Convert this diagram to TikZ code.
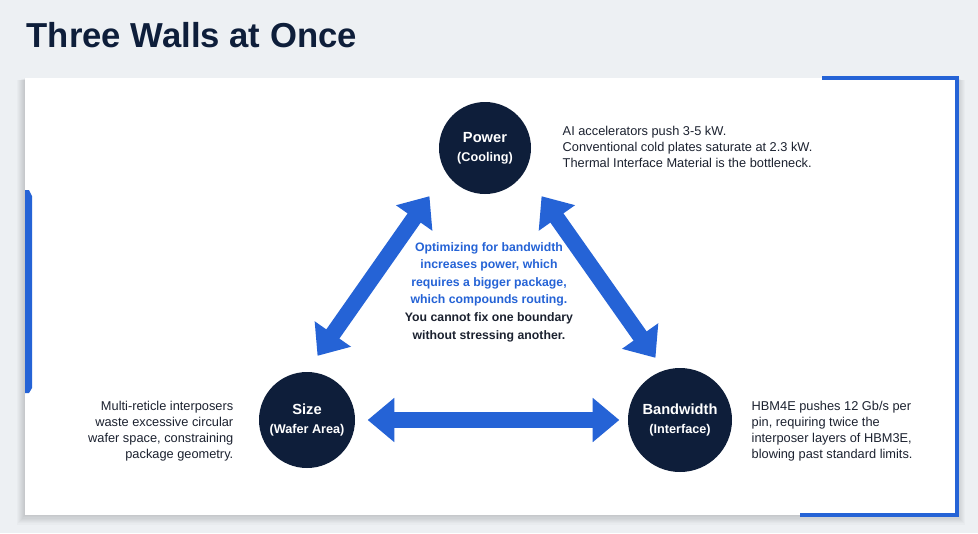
\documentclass[tikz,border=0pt]{standalone}
\usepackage{fontspec}
\setmainfont{Liberation Sans}
\usetikzlibrary{arrows.meta}
\definecolor{bg}{HTML}{EDF0F3}
\definecolor{navy}{HTML}{0E1E3A}
\definecolor{accent}{HTML}{2563D6}
\definecolor{ink}{HTML}{1C2230}
\begin{document}
\begin{tikzpicture}[x=0.75pt,y=-0.75pt,
  wall/.style={circle,fill=navy,text=white,font=\bfseries\fontsize{11}{13}\selectfont,align=center,inner sep=0pt},
  note/.style={font=\fontsize{9.6}{12}\selectfont,text=ink},
  dbl/.style={draw=accent,line width=12pt,{Triangle[length=20pt,width=32pt]}-{Triangle[length=20pt,width=32pt]},shorten <=2pt,shorten >=2pt}]
\useasboundingbox (0,0) rectangle (978,533);
\fill[bg] (0,0) rectangle (978,533);
\node[anchor=west,font=\bfseries\fontsize{26}{30}\selectfont,text=navy] (title) at (22,35) {Three Walls at Once};
\foreach \i in {1,...,8} \fill[black,opacity=0.018] (25-\i,78+\i*0.3) rectangle (957+\i,515+\i*1.2);
\fill[white] (25,78) rectangle (957,515);
\draw[accent,line width=3pt] (822,78) -- (957,78) -- (957,515) -- (800,515);
\fill[accent] (25,190) -- (29,190) -- (32,196) -- (32,388) -- (29,393) -- (25,393) -- cycle;
\node[wall,minimum size=69pt] (power) at (485,148) {Power\\[1pt]{\fontsize{9.5}{11}\selectfont(Cooling)}};
\node[wall,minimum size=72pt] (size) at (307,420) {Size\\[1pt]{\fontsize{9.5}{11}\selectfont(Wafer Area)}};
\node[wall,minimum size=78pt] (bw) at (680,420) {Bandwidth\\[1pt]{\fontsize{9.5}{11}\selectfont(Interface)}};
\coordinate (a1) at (431,194); \coordinate (a2) at (316,358);
\coordinate (b1) at (540,194); \coordinate (b2) at (657,360);
\coordinate (c1) at (365,420); \coordinate (c2) at (622,420);
\draw[dbl] (a1) -- (a2);
\draw[dbl] (b1) -- (b2);
\draw[dbl] (c1) -- (c2);
\node[align=center,font=\bfseries\fontsize{9.2}{13.2}\selectfont,text=accent] (msg) at (489,292)
 {Optimizing for bandwidth\\increases power, which\\requires a bigger package,\\which compounds routing.\\\textcolor{ink}{You cannot fix one boundary}\\\textcolor{ink}{without stressing another.}};
\node[note,anchor=north west,align=left] (pn) at (558,122) {AI accelerators push 3-5 kW.\\Conventional cold plates saturate at 2.3 kW.\\Thermal Interface Material is the bottleneck.};
\node[note,anchor=north east,align=right] (sn) at (238,397) {Multi-reticle interposers\\waste excessive circular\\wafer space, constraining\\package geometry.};
\node[note,anchor=north west,align=left] (bn) at (747,397) {HBM4E pushes 12 Gb/s per\\pin, requiring twice the\\interposer layers of HBM3E,\\blowing past standard limits.};
\end{tikzpicture}
\end{document}
